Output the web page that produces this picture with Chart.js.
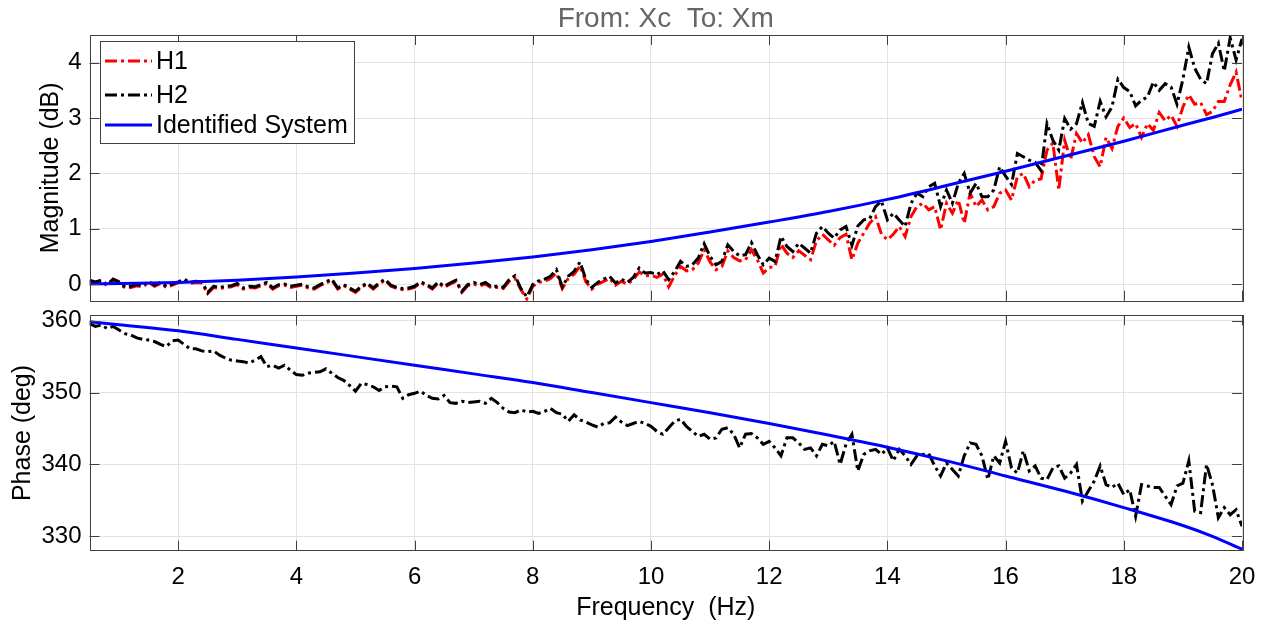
<!DOCTYPE html>
<html>
<head>
<meta charset="utf-8">
<title>From: Xc To: Xm</title>
<script src="https://cdn.jsdelivr.net/npm/chart.js@4.4.1/dist/chart.umd.min.js"></script>
<style>
  html, body { margin: 0; background: #fff; }
  #wrap { position: relative; width: 1268px; height: 626px; }
  #wrap canvas { position: absolute; left: 0; }
  #chart-mag { top: 0; }
  #chart-phase { top: 305px; }
</style>
</head>
<body>
<div id="wrap">
  <canvas id="chart-mag" width="1268" height="305"></canvas>
  <canvas id="chart-phase" width="1268" height="321"></canvas>
</div>
<script>
// measured frequency bins (Hz)
const freq = [
  0.5, 0.6, 0.7, 0.8, 0.9,
  1.0, 1.1, 1.2, 1.3, 1.4, 1.5, 1.6, 1.7, 1.8, 1.9,
  2.0, 2.1, 2.2, 2.3, 2.4, 2.5, 2.6, 2.7, 2.8, 2.9,
  3.0, 3.1, 3.2, 3.3, 3.4, 3.5, 3.6, 3.7, 3.8, 3.9,
  4.0, 4.1, 4.2, 4.3, 4.4, 4.5, 4.6, 4.7, 4.8, 4.9,
  5.0, 5.1, 5.2, 5.3, 5.4, 5.5, 5.6, 5.7, 5.8, 5.9,
  6.0, 6.1, 6.2, 6.3, 6.4, 6.5, 6.6, 6.7, 6.8, 6.9,
  7.0, 7.1, 7.2, 7.3, 7.4, 7.5, 7.6, 7.7, 7.8, 7.9,
  8.0, 8.1, 8.2, 8.3, 8.4, 8.5, 8.6, 8.7, 8.8, 8.9,
  9.0, 9.1, 9.2, 9.3, 9.4, 9.5, 9.6, 9.7, 9.8, 9.9,
  10.0, 10.1, 10.2, 10.3, 10.4, 10.5, 10.6, 10.7, 10.8, 10.9,
  11.0, 11.1, 11.2, 11.3, 11.4, 11.5, 11.6, 11.7, 11.8, 11.9,
  12.0, 12.1, 12.2, 12.3, 12.4, 12.5, 12.6, 12.7, 12.8, 12.9,
  13.0, 13.1, 13.2, 13.3, 13.4, 13.5, 13.6, 13.7, 13.8, 13.9,
  14.0, 14.1, 14.2, 14.3, 14.4, 14.5, 14.6, 14.7, 14.8, 14.9,
  15.0, 15.1, 15.2, 15.3, 15.4, 15.5, 15.6, 15.7, 15.8, 15.9,
  16.0, 16.1, 16.2, 16.3, 16.4, 16.5, 16.6, 16.7, 16.8, 16.9,
  17.0, 17.1, 17.2, 17.3, 17.4, 17.5, 17.6, 17.7, 17.8, 17.9,
  18.0, 18.1, 18.2, 18.3, 18.4, 18.5, 18.6, 18.7, 18.8, 18.9,
  19.0, 19.1, 19.2, 19.3, 19.4, 19.5, 19.6, 19.7, 19.8, 19.9,
  20.0
];

// H1 estimate, magnitude (dB)
const h1Mag = [
  0.05, 0.02, 0.05, -0.03, 0.07,
  0.02, -0.07, -0.06, -0.03, -0.05, 0.03, -0.04, 0.01, -0.06, -0.02,
  0.02, 0.07, 0.01, 0.03, 0.02, -0.17, -0.06, -0.08, -0.06, -0.05,
  -0.01, -0.09, -0.06, -0.07, -0.03, 0.01, -0.09, -0.03, -0.02, -0.06,
  -0.04, -0.02, -0.07, -0.09, -0.03, 0.02, 0.07, -0.09, -0.03, -0.09,
  -0.15, -0.06, 0.00, -0.09, 0.00, 0.07, -0.04, -0.08, -0.10, -0.09,
  -0.06, 0.02, -0.02, -0.09, 0.02, -0.06, 0.00, 0.05, -0.15, -0.03,
  0.00, -0.03, 0.00, -0.07, -0.06, -0.08, 0.05, 0.10, -0.10, -0.27,
  -0.04, 0.03, 0.05, 0.10, 0.20, -0.08, 0.10, 0.18, 0.33, 0.04,
  -0.09, 0.00, 0.05, 0.10, -0.02, 0.05, 0.00, 0.08, 0.22, 0.15,
  0.16, 0.12, 0.18, -0.05, 0.15, 0.32, 0.24, 0.26, 0.38, 0.62,
  0.40, 0.26, 0.32, 0.60, 0.48, 0.42, 0.44, 0.62, 0.44, 0.20,
  0.30, 0.32, 0.72, 0.56, 0.48, 0.60, 0.52, 0.44, 0.78, 0.90,
  0.80, 0.70, 0.84, 0.90, 0.44, 0.74, 0.92, 1.10, 1.22, 0.90,
  0.80, 0.90, 1.04, 0.86, 1.22, 1.40, 1.46, 1.34, 1.40, 0.98,
  1.46, 1.28, 1.52, 1.10, 1.64, 1.40, 1.52, 1.34, 1.40, 1.64,
  1.70, 1.52, 1.94, 2.00, 1.76, 1.88, 1.90, 2.42, 2.55, 1.70,
  2.60, 2.25, 2.72, 2.55, 2.70, 2.30, 2.12, 2.65, 2.45, 2.85,
  3.00, 2.83, 2.90, 2.65, 2.90, 2.78, 3.10, 2.95, 3.05, 2.85,
  3.20, 3.42, 3.25, 3.28, 3.06, 3.12, 3.30, 3.30, 3.60, 3.83,
  3.30
];

// H2 estimate, magnitude (dB)
const h2Mag = [
  0.07, 0.04, 0.07, -0.01, 0.09,
  0.04, -0.05, -0.04, -0.01, -0.03, 0.05, -0.02, 0.03, -0.04, 0.00,
  0.04, 0.09, 0.03, 0.05, 0.04, -0.15, -0.04, -0.06, -0.04, -0.03,
  0.01, -0.07, -0.04, -0.05, -0.01, 0.03, -0.07, -0.01, 0.00, -0.04,
  -0.02, 0.00, -0.05, -0.07, -0.01, 0.04, 0.09, -0.07, -0.01, -0.07,
  -0.13, -0.04, 0.02, -0.07, 0.02, 0.09, -0.02, -0.06, -0.08, -0.07,
  -0.04, 0.04, 0.00, -0.07, 0.04, -0.04, 0.02, 0.07, -0.13, -0.01,
  0.03, -0.01, 0.03, -0.05, -0.04, -0.06, 0.08, 0.15, -0.08, -0.23,
  -0.01, 0.06, 0.09, 0.14, 0.26, -0.05, 0.14, 0.23, 0.40, 0.08,
  -0.06, 0.03, 0.09, 0.14, 0.02, 0.09, 0.03, 0.12, 0.29, 0.20,
  0.21, 0.17, 0.24, 0.08, 0.23, 0.41, 0.32, 0.35, 0.47, 0.73,
  0.50, 0.35, 0.41, 0.71, 0.59, 0.51, 0.53, 0.75, 0.53, 0.35,
  0.47, 0.41, 0.86, 0.68, 0.59, 0.74, 0.65, 0.56, 0.92, 1.04,
  0.92, 0.83, 0.98, 1.04, 0.70, 1.05, 1.16, 1.18, 1.40, 1.50,
  1.16, 1.28, 1.16, 1.04, 1.46, 1.64, 1.58, 1.76, 1.82, 1.40,
  1.70, 1.46, 1.82, 2.00, 1.64, 1.82, 1.58, 1.58, 1.70, 2.12,
  1.95, 1.80, 2.36, 2.30, 2.24, 2.20, 2.05, 2.90, 2.60, 2.42,
  2.99, 2.80, 2.90, 3.28, 2.90, 2.85, 3.30, 3.02, 3.20, 3.70,
  3.55, 3.48, 3.22, 3.32, 3.38, 3.65, 3.50, 3.62, 3.56, 3.25,
  3.70, 4.28, 3.90, 3.70, 3.62, 4.16, 4.35, 3.85, 4.45, 4.05,
  4.43
];

// H2 phase (deg) - H1 phase is identical and hidden underneath
const h2Phase = [
  359.6, 359.2, 359.4, 358.9, 359.2,
  358.7, 358.2, 358.0, 357.6, 357.4, 357.3, 357.1, 356.7, 356.4, 357.2,
  357.3, 356.7, 356.1, 356.1, 355.8, 355.7, 355.8, 355.2, 354.8, 354.5,
  354.4, 354.3, 354.1, 354.5, 355.0, 353.6, 353.8, 353.4, 353.8, 353.1,
  352.5, 352.4, 352.7, 352.8, 352.9, 353.3, 352.7, 352.1, 351.7, 351.0,
  350.2, 351.3, 351.1, 350.8, 350.3, 350.8, 350.9, 350.8, 349.2, 349.7,
  349.9, 350.2, 349.6, 349.2, 349.1, 349.6, 348.6, 348.5, 348.8, 348.6,
  348.7, 348.8, 348.5, 349.2, 348.6, 347.8, 347.3, 347.2, 347.6, 347.3,
  347.4, 347.1, 347.4, 347.8, 347.2, 347.0, 346.0, 346.9, 346.2, 345.9,
  345.5, 345.2, 345.7, 345.8, 346.6, 345.9, 345.4, 345.7, 346.0, 345.7,
  345.3, 344.6, 344.2, 345.1, 346.0, 346.3, 345.3, 344.6, 343.9, 344.2,
  343.5, 343.7, 344.9, 345.1, 344.2, 342.3, 344.2, 344.3, 343.7, 342.8,
  343.2, 342.3, 341.2, 343.7, 343.7, 343.0, 342.1, 342.3, 341.2, 342.8,
  342.6, 343.2, 340.0, 342.8, 344.2, 339.1, 341.4, 341.9, 342.1, 341.4,
  342.3, 340.5, 342.1, 341.2, 340.0, 341.2, 341.4, 341.5, 339.8, 338.4,
  340.2, 339.3, 338.4, 341.2, 343.0, 342.8, 341.2, 337.9, 341.2, 340.2,
  343.2, 339.5, 338.8, 341.9, 339.1, 339.8, 338.1, 337.9, 339.5, 339.8,
  338.1, 338.8, 340.0, 334.9, 336.3, 337.7, 339.8, 337.2, 336.8, 337.4,
  335.8, 336.5, 332.8, 337.2, 337.0, 336.8, 336.8, 335.6, 334.4, 337.0,
  337.4, 340.5, 333.5, 333.3, 340.0, 337.2, 332.6, 334.0, 333.0, 333.7,
  331.4
];

// identified system (smooth model response)
const fitFreq  = [0.5, 1, 2, 3, 4, 5, 6, 7, 8, 9, 10, 11, 12, 13, 14, 15, 16, 17, 18, 19, 19.5, 20];
const fitMag   = [0.00, 0.01, 0.03, 0.07, 0.13, 0.20, 0.28, 0.38, 0.49, 0.62, 0.77, 0.94, 1.12, 1.31,
                  1.53, 1.78, 2.04, 2.31, 2.58, 2.87, 3.01, 3.16];
const fitPhase = [359.86, 359.45, 358.6, 357.4, 356.2, 355.0, 353.8, 352.6, 351.4, 350.0, 348.6, 347.2,
                  345.7, 344.1, 342.4, 340.5, 338.4, 336.3, 334.0, 331.5, 330.0, 328.2];

const freqTicks  = [2, 4, 6, 8, 10, 12, 14, 16, 18, 20];
const magTicks   = [0, 1, 2, 3, 4];
const phaseTicks = [330, 340, 350, 360];

const FONT = '"Liberation Sans", Arial, Helvetica, sans-serif';
const FRAME = '#404040';
const GRID = '#e3e3e3';
const DASH_DOT = [12, 4, 3, 4];
const PLOT_LEFT = 89.5;
const PLOT_RIGHT_PAD = 26;

Chart.defaults.font.family = FONT;
Chart.defaults.color = '#000';

const pts = (xs, ys) => xs.map((x, i) => ({ x, y: ys[i] }));

function fixWidth(w) {
  return s => { s.width = w; s.paddingTop = 0; s.paddingBottom = 0; };
}
function fixHeight(h) {
  return s => { s.height = h; s.paddingLeft = 0; s.paddingRight = 0; };
}
function setTicks(values) {
  return s => { s.ticks = values.map(v => ({ value: v })); };
}

// box around the axes with inward tick marks on all four sides
const boxFrame = {
  id: 'boxFrame',
  afterDatasetsDraw(chart) {
    const { ctx, chartArea: a, scales } = chart;
    const len = 10;
    ctx.save();
    ctx.strokeStyle = FRAME;
    ctx.lineWidth = 1;
    ctx.beginPath();
    scales.x.ticks.forEach(t => {
      const px = Math.round(scales.x.getPixelForValue(t.value)) + 0.5;
      ctx.moveTo(px, a.bottom); ctx.lineTo(px, a.bottom - len);
      ctx.moveTo(px, a.top); ctx.lineTo(px, a.top + len);
    });
    scales.y.ticks.forEach(t => {
      const py = Math.round(scales.y.getPixelForValue(t.value)) + 0.5;
      ctx.moveTo(a.left, py); ctx.lineTo(a.left + len, py);
      ctx.moveTo(a.right, py); ctx.lineTo(a.right - len, py);
    });
    ctx.stroke();
    ctx.strokeRect(Math.round(a.left) + 0.5, Math.round(a.top) + 0.5,
      Math.round(a.right - a.left), Math.round(a.bottom - a.top));
    ctx.restore();
  }
};

// title centred over the axes, like the bode plot header
const axesTitle = {
  id: 'axesTitle',
  afterDraw(chart, args, opts) {
    const { ctx, chartArea: a } = chart;
    ctx.save();
    ctx.fillStyle = '#666666';
    ctx.font = `28px ${FONT}`;
    ctx.textAlign = 'center';
    ctx.textBaseline = 'middle';
    ctx.fillText(opts.text, (a.left + a.right) / 2, 19);
    ctx.restore();
  }
};

// boxed legend in the upper left corner of the magnitude axes
const boxLegend = {
  id: 'boxLegend',
  afterDatasetsDraw(chart) {
    const { ctx } = chart;
    const rows = [61, 95, 125];
    ctx.save();
    ctx.fillStyle = '#fff';
    ctx.fillRect(100, 41, 254, 102);
    ctx.strokeStyle = FRAME;
    ctx.lineWidth = 1;
    ctx.strokeRect(100.5, 41.5, 254, 102);
    ctx.font = `25px ${FONT}`;
    ctx.textBaseline = 'middle';
    chart.data.datasets.forEach((ds, i) => {
      const y = rows[i];
      ctx.strokeStyle = ds.borderColor;
      ctx.lineWidth = ds.borderWidth;
      ctx.setLineDash(ds.borderDash || []);
      ctx.beginPath();
      ctx.moveTo(105, y);
      ctx.lineTo(152, y);
      ctx.stroke();
      ctx.setLineDash([]);
      ctx.fillStyle = '#000';
      ctx.fillText(ds.label, 156, y + 1);
    });
    ctx.restore();
  }
};

function baseOptions() {
  return {
    responsive: false,
    animation: false,
    events: [],
    plugins: { legend: { display: false }, tooltip: { enabled: false } },
    elements: { point: { radius: 0 } }
  };
}

// magnitude chart
const magOpts = baseOptions();
magOpts.layout = { padding: { top: 35, right: PLOT_RIGHT_PAD, left: 0, bottom: 0 } };
magOpts.plugins.axesTitle = { text: 'From: Xc  To: Xm' };
magOpts.scales = {
  x: {
    type: 'linear', min: 0.5, max: 20,
    afterBuildTicks: setTicks(freqTicks),
    afterFit: fixHeight(4.3),
    ticks: { display: false },
    grid: { color: GRID, drawTicks: false },
    border: { display: false }
  },
  y: {
    type: 'linear', min: -0.3, max: 4.5,
    afterBuildTicks: setTicks(magTicks),
    afterFit: fixWidth(PLOT_LEFT),
    ticks: { padding: 8, font: { size: 24 }, color: '#000' },
    grid: { color: GRID, drawTicks: false },
    border: { display: false },
    title: { display: true, text: 'Magnitude (dB)', font: { size: 25 }, padding: { top: 36, bottom: 0 } }
  }
};

new Chart(document.getElementById('chart-mag'), {
  type: 'line',
  data: {
    datasets: [
      { label: 'H1', data: pts(freq, h1Mag), borderColor: '#ff0000', borderWidth: 3, borderDash: DASH_DOT, order: 2 },
      { label: 'H2', data: pts(freq, h2Mag), borderColor: '#000000', borderWidth: 3, borderDash: DASH_DOT, order: 1 },
      { label: 'Identified System', data: pts(fitFreq, fitMag), borderColor: '#0000ff', borderWidth: 3,
        cubicInterpolationMode: 'monotone', order: 0 }
    ]
  },
  options: magOpts,
  plugins: [boxFrame, boxLegend, axesTitle]
});

// phase chart
const phaseOpts = baseOptions();
phaseOpts.layout = { padding: { top: 10.3, right: PLOT_RIGHT_PAD, left: 0, bottom: 0 } };
phaseOpts.scales = {
  x: {
    type: 'linear', min: 0.5, max: 20,
    afterBuildTicks: setTicks(freqTicks),
    afterFit: fixHeight(75.3),
    ticks: { padding: 12, font: { size: 24 }, color: '#000', maxRotation: 0, autoSkip: false },
    grid: { color: GRID, drawTicks: false },
    border: { display: false },
    title: { display: true, text: 'Frequency  (Hz)', font: { size: 25 }, padding: { top: 0, bottom: 3 } }
  },
  y: {
    type: 'linear', min: 328, max: 360.75,
    afterBuildTicks: setTicks(phaseTicks),
    afterFit: fixWidth(PLOT_LEFT),
    ticks: { padding: 8, font: { size: 24 }, color: '#000' },
    grid: { color: GRID, drawTicks: false },
    border: { display: false },
    title: { display: true, text: 'Phase (deg)', font: { size: 25 }, padding: { top: 8.5, bottom: 0 } }
  }
};

new Chart(document.getElementById('chart-phase'), {
  type: 'line',
  data: {
    datasets: [
      { label: 'H2', data: pts(freq, h2Phase), borderColor: '#000000', borderWidth: 3, borderDash: DASH_DOT, order: 1 },
      { label: 'Identified System', data: pts(fitFreq, fitPhase), borderColor: '#0000ff', borderWidth: 3,
        cubicInterpolationMode: 'monotone', order: 0 }
    ]
  },
  options: phaseOpts,
  plugins: [boxFrame]
});
</script>
</body>
</html>
